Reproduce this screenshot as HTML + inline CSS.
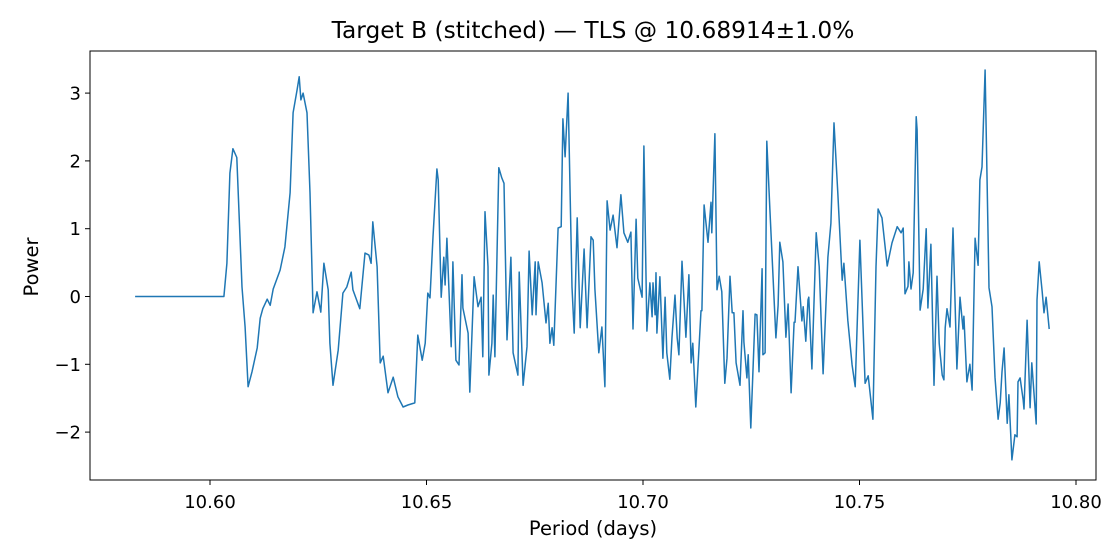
<!DOCTYPE html>
<html><head><meta charset="utf-8"><style>
body{margin:0;background:#fff;}
svg{display:block;font-family:"DejaVu Sans","Liberation Sans",sans-serif;}
</style></head><body>
<svg id="chart" width="1120" height="560">
<rect x="0" y="0" width="1120" height="560" fill="#fff"/>
<text x="593" y="38" font-size="23.3" text-anchor="middle" fill="#000">Target B (stitched) — TLS @ 10.68914±1.0%</text>
<g id="plot"></g>
<text x="593" y="535" font-size="19.5" text-anchor="middle">Period (days)</text>
<text x="38" y="267" font-size="19.5" text-anchor="middle" transform="rotate(-90 38 267)">Power</text>
</svg>
<script>
const periods=[10.5827,10.6032,10.6039,10.6046,10.6053,10.6062,10.6074,10.6081,10.6088,10.6097,10.6109,10.6116,10.6122,10.6132,10.6139,10.6146,10.6162,10.6173,10.6185,10.6192,10.6201,10.6206,10.6210,10.6215,10.6224,10.6231,10.6238,10.6247,10.6256,10.6263,10.6273,10.6277,10.6284,10.6296,10.6307,10.6316,10.6326,10.6330,10.6346,10.6358,10.6367,10.6372,10.6376,10.6386,10.6393,10.6400,10.6411,10.6423,10.6434,10.6446,10.6457,10.6473,10.6480,10.6490,10.6497,10.6503,10.6508,10.6515,10.6524,10.6527,10.6534,10.6540,10.6543,10.6547,10.6557,10.6561,10.6568,10.6575,10.6582,10.6584,10.6596,10.6600,10.6610,10.6619,10.6626,10.6630,10.6635,10.6642,10.6644,10.6651,10.6654,10.6658,10.6667,10.6674,10.6679,10.6686,10.6695,10.6700,10.6711,10.6714,10.6723,10.6732,10.6737,10.6744,10.6751,10.6753,10.6758,10.6767,10.6776,10.6781,10.6785,10.6790,10.6794,10.6804,10.6811,10.6815,10.6820,10.6827,10.6836,10.6841,10.6848,10.6855,10.6864,10.6871,10.6880,10.6885,10.6889,10.6898,10.6905,10.6912,10.6917,10.6924,10.6931,10.6940,10.6949,10.6956,10.6965,10.6972,10.6977,10.6984,10.6988,10.6998,10.7002,10.7009,10.7016,10.7021,10.7023,10.7028,10.7030,10.7032,10.7039,10.7046,10.7051,10.7055,10.7062,10.7067,10.7074,10.7079,10.7083,10.7090,10.7099,10.7106,10.7111,10.7115,10.7122,10.7134,10.7136,10.7141,10.7150,10.7157,10.7159,10.7166,10.7171,10.7176,10.7182,10.7189,10.7194,10.7201,10.7206,10.7210,10.7215,10.7224,10.7231,10.7233,10.7240,10.7243,10.7249,10.7259,10.7263,10.7268,10.7275,10.7277,10.7282,10.7286,10.7293,10.7307,10.7312,10.7316,10.7323,10.7330,10.7335,10.7342,10.7349,10.7351,10.7358,10.7367,10.7370,10.7376,10.7381,10.7383,10.7390,10.7400,10.7407,10.7416,10.7427,10.7434,10.7441,10.7450,10.7460,10.7464,10.7473,10.7483,10.7490,10.7501,10.7513,10.7520,10.7531,10.7538,10.7543,10.7552,10.7564,10.7575,10.7587,10.7596,10.7601,10.7605,10.7612,10.7614,10.7619,10.7624,10.7631,10.7633,10.7640,10.7647,10.7654,10.7658,10.7665,10.7672,10.7679,10.7684,10.7691,10.7695,10.7698,10.7702,10.7709,10.7716,10.7725,10.7732,10.7739,10.7741,10.7748,10.7755,10.7760,10.7767,10.7774,10.7778,10.7783,10.7790,10.7799,10.7806,10.7813,10.7820,10.7825,10.7829,10.7834,10.7841,10.7845,10.7852,10.7859,10.7864,10.7866,10.7871,10.7878,10.7880,10.7887,10.7894,10.7898,10.7908,10.7910,10.7915,10.7922,10.7926,10.7931,10.7938];
const powers=[0,0,0.49,1.82,2.18,2.05,0.14,-0.45,-1.33,-1.11,-0.76,-0.32,-0.18,-0.04,-0.13,0.11,0.39,0.73,1.53,2.71,3.04,3.24,2.90,3.00,2.71,1.53,-0.24,0.07,-0.23,0.49,0.10,-0.69,-1.31,-0.79,0.05,0.14,0.36,0.10,-0.18,0.64,0.61,0.49,1.10,0.44,-0.98,-0.88,-1.42,-1.19,-1.48,-1.63,-1.60,-1.57,-0.57,-0.94,-0.69,0.05,-0.02,0.88,1.88,1.72,-0.01,0.58,0.17,0.86,-0.74,0.51,-0.94,-1.01,0.32,-0.17,-0.54,-1.41,0.29,-0.15,-0.01,-0.89,1.25,0.44,-1.16,-0.69,0.02,-0.89,1.90,1.75,1.67,-0.64,0.58,-0.83,-1.16,0.36,-1.31,-0.74,0.67,-0.27,0.51,-0.27,0.51,0.20,-0.39,-0.10,-0.69,-0.46,-0.72,1.01,1.03,2.62,2.06,3.00,0.14,-0.54,1.16,-0.46,0.70,-0.46,0.88,0.83,0.11,-0.83,-0.45,-1.33,1.41,0.98,1.20,0.72,1.50,0.94,0.80,0.95,-0.48,1.14,0.27,-0.01,2.22,-0.51,0.20,-0.30,0.20,-0.27,0.35,-0.54,0.29,-0.91,-0.01,-0.83,-1.22,-0.60,0.02,-0.61,-0.86,0.52,-0.60,0.32,-0.98,-0.69,-1.63,-0.21,-0.21,1.35,0.80,1.39,0.94,2.40,0.10,0.30,0.07,-1.28,-0.91,0.30,-0.24,-0.24,-0.98,-1.31,-0.21,-0.67,-1.20,-0.86,-1.94,-0.26,-0.27,-1.11,0.41,-0.86,-0.83,2.29,1.28,-0.61,-0.13,0.80,0.51,-0.60,-0.11,-1.42,-0.38,-0.38,0.44,-0.36,-0.15,-0.66,-0.05,-0.01,-1.07,0.94,0.44,-1.14,0.58,1.08,2.56,1.53,0.24,0.49,-0.35,-1.01,-1.33,0.83,-1.28,-1.17,-1.81,0.44,1.29,1.16,0.45,0.79,1.03,0.94,1.01,0.04,0.15,0.51,0.11,0.35,2.65,2.46,-0.20,0.11,1.00,-0.17,0.77,-1.31,0.30,-0.69,-1.16,-1.23,-0.46,-0.18,-0.45,1.01,-1.07,-0.01,-0.48,-0.29,-1.26,-1.00,-1.38,0.86,0.46,1.72,1.91,3.34,0.13,-0.15,-1.19,-1.81,-1.57,-1.11,-0.76,-1.87,-1.45,-2.41,-2.04,-2.07,-1.26,-1.20,-1.53,-1.66,-0.35,-1.64,-0.98,-1.88,-0.05,0.51,0.07,-0.24,-0.01,-0.48];
const xTicks=[10.60,10.65,10.70,10.75,10.80];
const xTickLabels=["10.60","10.65","10.70","10.75","10.80"];
const yTicks=[-2,-1,0,1,2,3];
const yTickLabels=["\u22122","\u22121","0","1","2","3"];

const L=90,R=1096,T=51,B=480;
function xs(p){return 210+(p-10.6)*4330;}
function ys(v){return 296.5-v*67.8;}
const NS="http://www.w3.org/2000/svg";
const g=document.getElementById('plot');
function mk(tag,attrs){const e=document.createElementNS(NS,tag);for(const k in attrs)e.setAttribute(k,attrs[k]);return e;}

const line=mk('path',{fill:'none',stroke:'#1f77b4','stroke-width':'1.5','stroke-linejoin':'round'});


let d='';
for(let i=0;i<periods.length;i++){d+=(i?'L':'M')+xs(periods[i]).toFixed(1)+' '+ys(powers[i]).toFixed(1);}
line.setAttribute('d',d);
g.appendChild(line);

const frame=mk('rect',{x:L,y:T,width:R-L,height:B-T,fill:'none',stroke:'#000','stroke-width':'1'});


g.appendChild(frame);

xTicks.forEach((t,i)=>{
  const x=xs(t);
  const tk=mk('line',{x1:x,x2:x,y1:B,y2:B+5,stroke:'#000','stroke-width':'1'});
  
  
  g.appendChild(tk);
  const tx=mk('text',{x:x,y:B+28,'font-size':'18','text-anchor':'middle'});
  
  
  tx.textContent=xTickLabels[i];g.appendChild(tx);
});
yTicks.forEach((t,i)=>{
  const y=ys(t);
  const tk=mk('line',{x1:L-5,x2:L,y1:y,y2:y,stroke:'#000','stroke-width':'1'});
  
  
  g.appendChild(tk);
  const tx=mk('text',{x:L-9,y:y+6.5,'font-size':'18','text-anchor':'end'});
  
  
  tx.textContent=yTickLabels[i];g.appendChild(tx);
});
</script>
</body></html>
